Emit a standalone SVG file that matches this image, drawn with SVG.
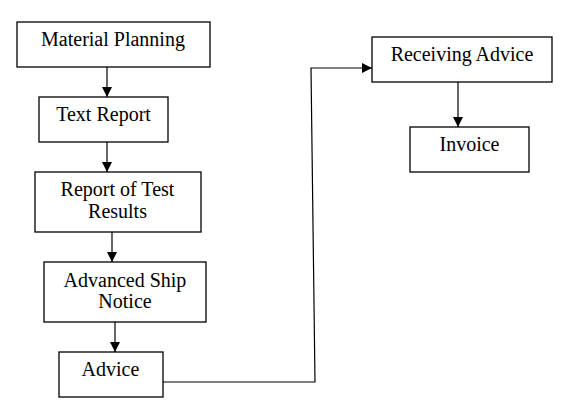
<svg xmlns="http://www.w3.org/2000/svg" width="569" height="410" viewBox="0 0 569 410">
<defs>
<marker id="ah" markerWidth="10" markerHeight="10" refX="10" refY="5" orient="auto" markerUnits="userSpaceOnUse">
<path d="M0,0 L10,5 L0,10 Z" fill="#000"/>
</marker>
</defs>
<style>
.box{fill:#fff;stroke:#000;stroke-width:1.3}
.t{font-family:"Liberation Serif","Times New Roman",serif;font-size:20px;fill:#000;text-anchor:middle}
.c{fill:none;stroke:#000;stroke-width:1.2}
</style>
<rect width="569" height="410" fill="#fff"/>
<g id="connectors">
<path class="c" d="M107,67 V97" marker-end="url(#ah)"/>
<path class="c" d="M107,142 V172" marker-end="url(#ah)"/>
<path class="c" d="M112,232 V262" marker-end="url(#ah)"/>
<path class="c" d="M115,322 V352" marker-end="url(#ah)"/>
<path class="c" d="M163,382 H315 L311,68 H372" stroke="#333" marker-end="url(#ah)"/>
<path class="c" d="M458,82 V127" marker-end="url(#ah)"/>
</g>
<g id="material-planning">
<rect class="box" x="17" y="22" width="193" height="45"/>
<text class="t" x="113" y="46">Material Planning</text>
</g>
<g id="text-report">
<rect class="box" x="39" y="97" width="129" height="45"/>
<text class="t" x="103.5" y="121">Text Report</text>
</g>
<g id="report-test-results">
<rect class="box" x="35" y="172" width="166" height="60"/>
<text class="t" x="117.5" y="196">Report of Test</text>
<text class="t" x="117.5" y="218">Results</text>
</g>
<g id="advanced-ship-notice">
<rect class="box" x="44" y="262" width="162" height="60"/>
<text class="t" x="125" y="287">Advanced Ship</text>
<text class="t" x="125" y="308">Notice</text>
</g>
<g id="advice">
<rect class="box" x="59" y="352" width="104" height="45"/>
<text class="t" x="110.5" y="376">Advice</text>
</g>
<g id="receiving-advice">
<rect class="box" x="372" y="37" width="180" height="45"/>
<text class="t" x="462" y="61">Receiving Advice</text>
</g>
<g id="invoice">
<rect class="box" x="410" y="127" width="119" height="45"/>
<text class="t" x="469.5" y="151">Invoice</text>
</g>
</svg>
